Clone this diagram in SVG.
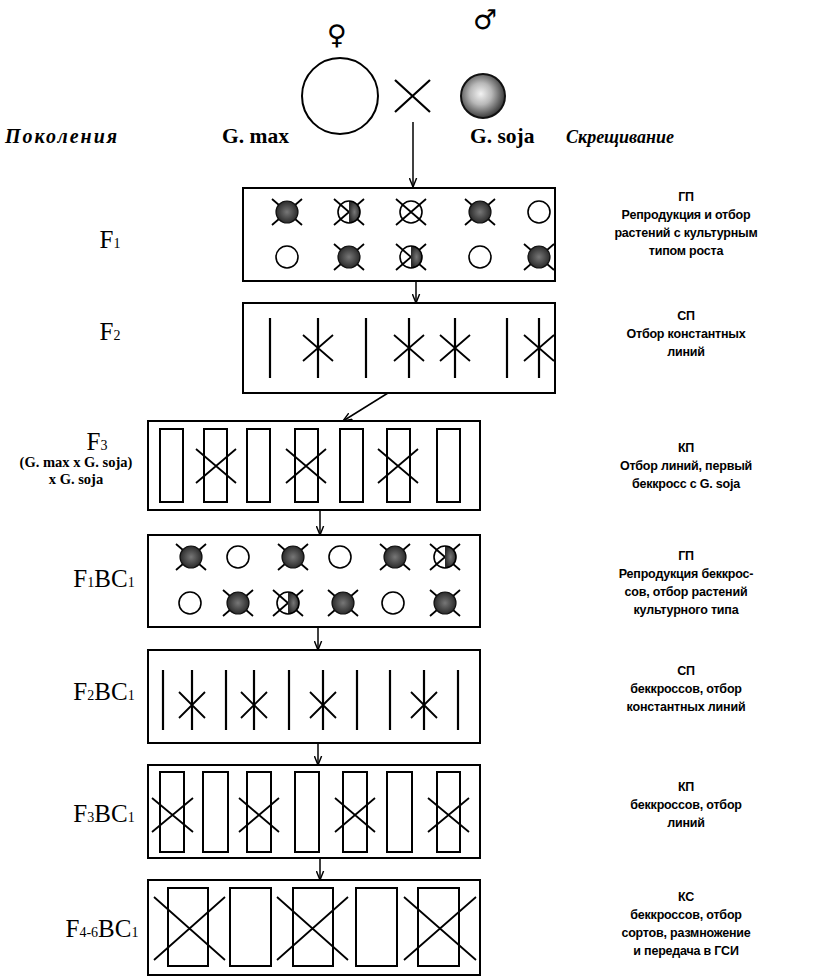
<svg xmlns="http://www.w3.org/2000/svg" width="817" height="977" viewBox="0 0 817 977">
<style>
.box{fill:none;stroke:#000;stroke-width:2}
.ln{fill:none;stroke:#000;stroke-width:2.2}
.x{fill:none;stroke:#000;stroke-width:1.8}
.con{fill:none;stroke:#000;stroke-width:1.5}
.lbl{font-family:"Liberation Serif",serif;font-size:25px;text-anchor:middle}
.sub{font-size:14px}
.hd{font-family:"Liberation Serif",serif;font-style:italic;font-weight:bold}
.sp{font-family:"Liberation Serif",serif;font-size:21.5px;font-weight:bold}
.rt{font-family:"Liberation Sans",sans-serif;font-weight:bold;font-size:12.5px;letter-spacing:-0.2px;text-anchor:middle}
.sm{font-family:"Liberation Serif",serif;font-weight:bold;font-size:14.5px;text-anchor:middle}
.sym{font-family:"DejaVu Sans",sans-serif;font-size:27px;text-anchor:middle}
</style>
<defs>
<radialGradient id="dg" cx="50%" cy="50%" r="50%">
<stop offset="0" stop-color="#777"/><stop offset="1" stop-color="#2b2b2b"/>
</radialGradient>
<radialGradient id="bg" cx="45%" cy="45%" r="55%">
<stop offset="0" stop-color="#f2f2f2"/><stop offset="0.45" stop-color="#b8b8b8"/><stop offset="1" stop-color="#3a3a3a"/>
</radialGradient>
<marker id="ah" viewBox="0 0 10 10" refX="10" refY="5" markerWidth="9" markerHeight="9" markerUnits="userSpaceOnUse" orient="auto">
<path d="M0,1 L10,5 L0,9" fill="none" stroke="#000" stroke-width="1.6"/>
</marker>
<g id="w"><circle r="11" fill="#fff" stroke="#000" stroke-width="1.6"/></g>
<g id="wx"><circle r="11" fill="#fff" stroke="#000" stroke-width="1.6"/><path class="x" d="M-15,-13L15,13M15,-13L-15,13"/></g>
<g id="dx"><path class="x" d="M-15,-13L15,13M15,-13L-15,13"/><circle r="11" fill="url(#dg)" stroke="#111" stroke-width="1.2"/></g>
<g id="hx"><circle r="11" fill="#fff"/><path class="x" d="M-15,-13L15,13M15,-13L-15,13"/><path d="M0,-11A11,11 0 0 1 0,11Z" fill="url(#dg)"/><circle r="11" fill="none" stroke="#000" stroke-width="1.6"/></g>
<g id="bar"><path class="ln" d="M0,-30V30"/></g>
<g id="ast"><path class="ln" d="M0,-30V30"/><path class="x" d="M-15,-13L15,13M15,-13L-15,13"/></g>
<g id="ast2"><path class="ln" d="M0,-30V30"/><path class="x" d="M-13,-8L13,18M13,-8L-13,18"/></g>
</defs>

<g id="parents">
<text class="sym" x="337" y="44">♀</text>
<text class="sym" x="485" y="29">♂</text>
<circle cx="340" cy="96" r="38" fill="#fff" stroke="#000" stroke-width="2"/>
<path class="ln" d="M395,80L430,112M430,80L395,112"/>
<circle cx="483" cy="96" r="22" fill="url(#bg)" stroke="#111" stroke-width="2"/>
<text class="hd" x="5" y="143" font-size="20" letter-spacing="2">Поколения</text>
<text class="sp" x="222" y="143">G. max</text>
<text class="sp" x="470" y="143">G. soja</text>
<text class="hd" x="566" y="143" font-size="18">Скрещивание</text>
</g>

<g id="connectors">
<path class="con" d="M413,122V187" marker-end="url(#ah)"/>
<path class="con" d="M416,281V303" marker-end="url(#ah)"/>
<path class="con" d="M388,393L343,421" marker-end="url(#ah)"/>
<path class="con" d="M320,510V535" marker-end="url(#ah)"/>
<path class="con" d="M318,627V650" marker-end="url(#ah)"/>
<path class="con" d="M318,743V765" marker-end="url(#ah)"/>
<path class="con" d="M320,858V880" marker-end="url(#ah)"/>
</g>

<g id="F1">
<text class="lbl" x="110" y="248">F<tspan class="sub">1</tspan></text>
<rect class="box" x="243" y="188" width="312" height="93"/>
<use href="#dx" x="287" y="212"/><use href="#hx" x="349" y="212"/><use href="#wx" x="411" y="212"/><use href="#dx" x="480" y="212"/><use href="#w" x="539" y="212"/>
<use href="#w" x="287" y="257"/><use href="#dx" x="349" y="257"/><use href="#hx" x="411" y="257"/><use href="#w" x="480" y="257"/><use href="#dx" x="539" y="257"/>
<text class="rt" x="686" y="201">ГП</text>
<text class="rt" x="686" y="219">Репродукция и отбор</text>
<text class="rt" x="686" y="237">растений  с культурным</text>
<text class="rt" x="686" y="255">типом роста</text>
</g>

<g id="F2">
<text class="lbl" x="110" y="340">F<tspan class="sub">2</tspan></text>
<rect class="box" x="243" y="303" width="312" height="90"/>
<use href="#bar" x="270" y="348"/><use href="#ast" x="318" y="348"/><use href="#bar" x="366" y="348"/><use href="#ast" x="409" y="348"/><use href="#ast" x="455" y="348"/><use href="#bar" x="507" y="348"/><use href="#ast" x="539" y="348"/>
<text class="rt" x="686" y="320">СП</text>
<text class="rt" x="686" y="338">Отбор константных</text>
<text class="rt" x="686" y="356">линий</text>
</g>

<g id="F3">
<text class="lbl" x="97" y="450">F<tspan class="sub">3</tspan></text>
<text class="sm" x="76" y="467">(G. max x G. soja)</text>
<text class="sm" x="76" y="484">x G. soja</text>
<rect class="box" x="148" y="421" width="332" height="89"/>
<g class="box">
<rect x="160" y="429" width="23" height="73"/><rect x="204" y="429" width="23" height="73"/><rect x="247" y="429" width="23" height="73"/><rect x="295" y="429" width="23" height="73"/><rect x="340" y="429" width="23" height="73"/><rect x="387" y="429" width="23" height="73"/><rect x="437" y="429" width="23" height="73"/>
</g>
<path class="x" d="M196,449L236,483M236,449L196,483M286,449L326,483M326,449L286,483M378,449L418,483M418,449L378,483"/>
<text class="rt" x="686" y="452">КП</text>
<text class="rt" x="686" y="470">Отбор линий, первый</text>
<text class="rt" x="686" y="488">беккросс с G. soja</text>
</g>

<g id="F1BC1">
<text class="lbl" x="104" y="587">F<tspan class="sub">1</tspan>BC<tspan class="sub">1</tspan></text>
<rect class="box" x="148" y="535" width="332" height="92"/>
<use href="#dx" x="191" y="557"/><use href="#w" x="238" y="557"/><use href="#dx" x="293" y="557"/><use href="#w" x="340" y="557"/><use href="#dx" x="395" y="557"/><use href="#hx" x="445" y="557"/>
<use href="#w" x="190" y="603"/><use href="#dx" x="238" y="603"/><use href="#hx" x="288" y="603"/><use href="#dx" x="343" y="603"/><use href="#w" x="393" y="603"/><use href="#dx" x="445" y="603"/>
<text class="rt" x="686" y="560">ГП</text>
<text class="rt" x="686" y="578">Репродукция беккрос-</text>
<text class="rt" x="686" y="596">сов, отбор растений</text>
<text class="rt" x="686" y="614">культурного типа</text>
</g>

<g id="F2BC1">
<text class="lbl" x="104" y="700">F<tspan class="sub">2</tspan>BC<tspan class="sub">1</tspan></text>
<rect class="box" x="148" y="650" width="332" height="93"/>
<use href="#bar" x="163" y="700"/><use href="#ast2" x="192" y="700"/><use href="#bar" x="226" y="700"/><use href="#ast2" x="254" y="700"/><use href="#bar" x="289" y="700"/><use href="#ast2" x="323" y="700"/><use href="#bar" x="357" y="700"/><use href="#bar" x="390" y="700"/><use href="#ast2" x="424" y="700"/><use href="#bar" x="458" y="700"/>
<text class="rt" x="686" y="675">СП</text>
<text class="rt" x="686" y="693">беккроссов, отбор</text>
<text class="rt" x="686" y="711">константных линий</text>
</g>

<g id="F3BC1">
<text class="lbl" x="104" y="822">F<tspan class="sub">3</tspan>BC<tspan class="sub">1</tspan></text>
<rect class="box" x="148" y="765" width="332" height="93"/>
<g class="box">
<rect x="160" y="772" width="24" height="80"/><rect x="203" y="772" width="25" height="80"/><rect x="247" y="772" width="24" height="80"/><rect x="295" y="772" width="24" height="80"/><rect x="343" y="772" width="24" height="80"/><rect x="387" y="772" width="25" height="80"/><rect x="437" y="772" width="23" height="80"/>
</g>
<path class="x" d="M152,798L193,832M193,798L152,832M239,798L279,832M279,798L239,832M335,798L375,832M375,798L335,832M428,798L469,832M469,798L428,832"/>
<text class="rt" x="686" y="791">КП</text>
<text class="rt" x="686" y="809">беккроссов, отбор</text>
<text class="rt" x="686" y="827">линий</text>
</g>

<g id="F46BC1">
<text class="lbl" x="102" y="937">F<tspan class="sub">4-6</tspan>BC<tspan class="sub">1</tspan></text>
<rect class="box" x="148" y="880" width="332" height="95"/>
<g class="box">
<rect x="168" y="888" width="40" height="78"/><rect x="230" y="888" width="41" height="78"/><rect x="293" y="888" width="40" height="78"/><rect x="356" y="888" width="41" height="78"/><rect x="418" y="888" width="41" height="78"/>
</g>
<path class="x" d="M154,897L225,960M225,897L154,960M277,897L348,960M348,897L277,960M404,897L476,960M476,897L404,960"/>
<text class="rt" x="686" y="901">КС</text>
<text class="rt" x="686" y="919">беккроссов, отбор</text>
<text class="rt" x="686" y="937">сортов, размножение</text>
<text class="rt" x="686" y="955">и передача в ГСИ</text>
</g>
</svg>
